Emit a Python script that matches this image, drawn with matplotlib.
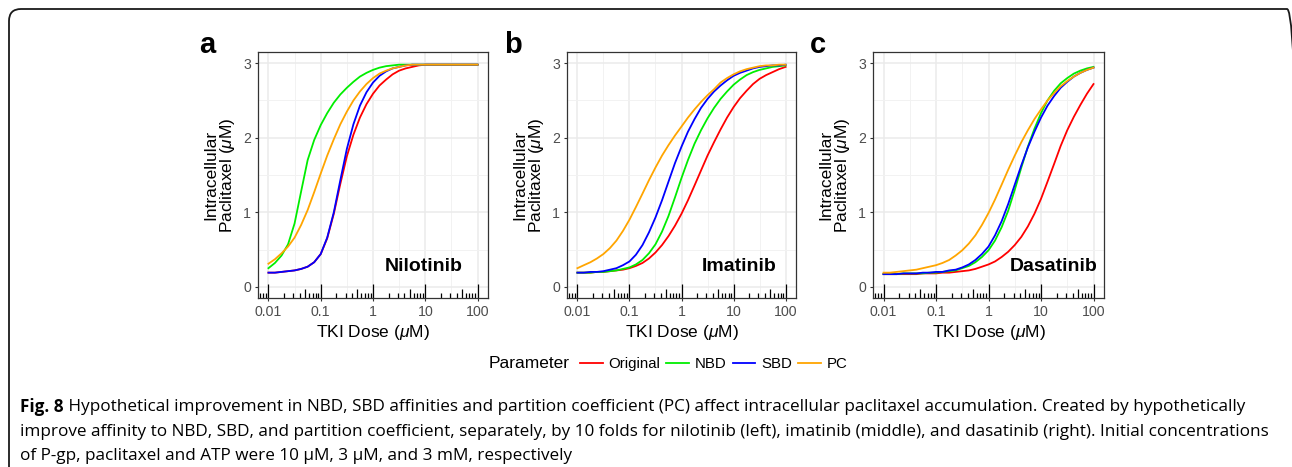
import matplotlib
matplotlib.use("Agg")
import matplotlib.pyplot as plt
import numpy as np
from matplotlib.patches import FancyBboxPatch
from matplotlib.lines import Line2D
from matplotlib.ticker import FixedLocator, NullFormatter
from matplotlib.transforms import IdentityTransform

plt.rcParams["font.family"] = ["Liberation Sans", "DejaVu Sans"]
plt.rcParams["mathtext.fontset"] = "custom"
plt.rcParams["mathtext.rm"] = "Liberation Sans"
plt.rcParams["mathtext.it"] = "Liberation Sans:italic"

# TKI dose (uM), 1/8 decade steps from 0.01 to 100
dose = [0.01, 0.0133, 0.0178, 0.0237, 0.0316, 0.0422, 0.0562, 0.075,
        0.1, 0.133, 0.178, 0.237, 0.316, 0.422, 0.562, 0.75,
        1, 1.33, 1.78, 2.37, 3.16, 4.22, 5.62, 7.5,
        10, 13.3, 17.8, 23.7, 31.6, 42.2, 56.2, 75, 100]

# intracellular paclitaxel (uM)
nil_original = [0.19, 0.19, 0.20, 0.21, 0.22, 0.24, 0.27, 0.33,
                0.44, 0.65, 0.98, 1.38, 1.75, 2.04, 2.27, 2.45,
                2.59, 2.70, 2.78, 2.85, 2.90, 2.93, 2.95, 2.97,
                2.98, 2.98, 2.98, 2.98, 2.98, 2.98, 2.98, 2.98, 2.98]
nil_nbd = [0.25, 0.32, 0.42, 0.57, 0.85, 1.28, 1.70, 1.97,
           2.17, 2.33, 2.47, 2.58, 2.67, 2.75, 2.82, 2.87,
           2.91, 2.94, 2.96, 2.97, 2.98, 2.98, 2.98, 2.98,
           2.98, 2.98, 2.98, 2.98, 2.98, 2.98, 2.98, 2.98, 2.98]
nil_sbd = [0.19, 0.19, 0.20, 0.21, 0.22, 0.24, 0.27, 0.33,
           0.44, 0.66, 1.00, 1.43, 1.85, 2.18, 2.43, 2.61,
           2.74, 2.83, 2.89, 2.93, 2.95, 2.97, 2.98, 2.98,
           2.98, 2.98, 2.98, 2.98, 2.98, 2.98, 2.98, 2.98, 2.98]
nil_pc = [0.31, 0.37, 0.45, 0.54, 0.66, 0.83, 1.03, 1.27,
          1.52, 1.76, 1.98, 2.18, 2.35, 2.50, 2.62, 2.72,
          2.80, 2.86, 2.90, 2.93, 2.95, 2.97, 2.98, 2.98,
          2.98, 2.98, 2.98, 2.98, 2.98, 2.98, 2.98, 2.98, 2.98]

ima_original = [0.19, 0.19, 0.19, 0.20, 0.20, 0.21, 0.22, 0.23,
                0.25, 0.28, 0.32, 0.38, 0.46, 0.56, 0.68, 0.82,
                0.98, 1.16, 1.36, 1.56, 1.76, 1.94, 2.11, 2.27,
                2.41, 2.53, 2.63, 2.72, 2.79, 2.84, 2.88, 2.92, 2.95]
ima_nbd = [0.19, 0.19, 0.19, 0.20, 0.20, 0.21, 0.22, 0.24,
           0.26, 0.30, 0.36, 0.45, 0.57, 0.74, 0.95, 1.20,
           1.46, 1.70, 1.92, 2.10, 2.26, 2.40, 2.52, 2.62,
           2.71, 2.78, 2.84, 2.88, 2.91, 2.93, 2.95, 2.96, 2.97]
ima_sbd = [0.19, 0.19, 0.20, 0.20, 0.21, 0.23, 0.25, 0.29,
           0.34, 0.43, 0.56, 0.73, 0.93, 1.16, 1.41, 1.66,
           1.88, 2.08, 2.25, 2.40, 2.52, 2.62, 2.70, 2.77,
           2.83, 2.87, 2.90, 2.93, 2.95, 2.96, 2.97, 2.97, 2.98]
ima_pc = [0.25, 0.29, 0.33, 0.38, 0.44, 0.52, 0.62, 0.75,
          0.90, 1.07, 1.25, 1.43, 1.60, 1.76, 1.90, 2.03,
          2.15, 2.27, 2.38, 2.48, 2.57, 2.65, 2.74, 2.80,
          2.85, 2.89, 2.92, 2.94, 2.96, 2.97, 2.97, 2.98, 2.98]

das_original = [0.17, 0.17, 0.17, 0.17, 0.17, 0.17, 0.18, 0.18,
                0.18, 0.19, 0.19, 0.20, 0.21, 0.22, 0.24, 0.27,
                0.30, 0.34, 0.40, 0.47, 0.56, 0.67, 0.81, 0.98,
                1.18, 1.41, 1.65, 1.89, 2.10, 2.28, 2.44, 2.59, 2.72]
das_nbd = [0.17, 0.17, 0.17, 0.18, 0.18, 0.18, 0.18, 0.19,
           0.19, 0.20, 0.21, 0.22, 0.25, 0.28, 0.33, 0.40,
           0.49, 0.62, 0.80, 1.02, 1.30, 1.60, 1.88, 2.12,
           2.33, 2.50, 2.63, 2.73, 2.80, 2.86, 2.90, 2.93, 2.95]
das_sbd = [0.17, 0.17, 0.17, 0.18, 0.18, 0.18, 0.19, 0.19,
           0.20, 0.20, 0.22, 0.23, 0.26, 0.30, 0.36, 0.44,
           0.54, 0.69, 0.88, 1.11, 1.37, 1.63, 1.87, 2.08,
           2.27, 2.43, 2.56, 2.67, 2.75, 2.82, 2.87, 2.91, 2.94]
das_pc = [0.19, 0.19, 0.20, 0.21, 0.22, 0.23, 0.25, 0.27,
          0.29, 0.32, 0.36, 0.42, 0.49, 0.58, 0.69, 0.83,
          0.99, 1.17, 1.37, 1.57, 1.76, 1.94, 2.10, 2.25,
          2.38, 2.50, 2.60, 2.69, 2.76, 2.82, 2.87, 2.91, 2.94]

parameters = ["Original", "NBD", "SBD", "PC"]
colors = ["#FF0000", "#00EE00", "#0000FF", "#FFA500"]
drugs = ["Nilotinib", "Imatinib", "Dasatinib"]
panel_letters = ["a", "b", "c"]
series = [
    [nil_original, nil_nbd, nil_sbd, nil_pc],
    [ima_original, ima_nbd, ima_sbd, ima_pc],
    [das_original, das_nbd, das_sbd, das_pc],
]

W, H = 1292, 467
fig = plt.figure(figsize=(W / 100, H / 100), dpi=100)

# rounded frame around the figure
frame = FancyBboxPatch((9, -30), 1290, 467 - 9 + 30, boxstyle="round,pad=0,rounding_size=12",
                       transform=IdentityTransform(), fill=False, ec="#1a1a1a", lw=1.3)
fig.patches.append(frame)

# panel boxes in pixels: left, top, right, bottom
boxes = [(258, 52, 488, 298), (567, 52, 796, 298), (873, 52, 1104, 298)]
label_x = [0.891, 0.913, 0.974]
letter_x = [199, 504, 810]

xlo, xhi = 10 ** -2.2, 10 ** 2.2
for i, (l, t, r, b) in enumerate(boxes):
    ax = fig.add_axes([l / W, 1 - b / H, (r - l) / W, (b - t) / H])
    ax.set_xscale("log")
    ax.set_xlim(xlo, xhi)
    ax.set_ylim(-0.15, 3.15)
    ax.set_xticks([0.01, 0.1, 1, 10, 100])
    ax.set_xticklabels(["0.01", "0.1", "1", "10", "100"])
    ax.xaxis.set_minor_locator(FixedLocator([0.0316, 0.316, 3.16, 31.6]))
    ax.xaxis.set_minor_formatter(NullFormatter())
    ax.set_yticks([0, 1, 2, 3])
    ax.yaxis.set_minor_locator(FixedLocator([0.5, 1.5, 2.5]))
    ax.set_axisbelow(True)
    ax.grid(which="major", color="#EBEBEB", lw=1.1)
    ax.grid(which="minor", color="#F2F2F2", lw=0.7)
    ax.tick_params(which="major", length=2.2, width=0.8, color="#333333",
                   labelsize=10.2, labelcolor="#4D4D4D", pad=3)
    ax.tick_params(which="minor", length=0)
    for sp in ax.spines.values():
        sp.set_color("#333333")
        sp.set_linewidth(0.9)

    for vals, c in zip(series[i], colors):
        ax.plot(dose, vals, color=c, lw=1.3)

    # log ticks along the bottom
    axh = b - t
    for k in range(-3, 3):
        for m in range(1, 10):
            v = m * 10.0 ** k
            if v < xlo or v > xhi:
                continue
            ln = 14 if m == 1 else (9 if m == 5 else 5)
            ax.plot([v, v], [0, ln / axh], transform=ax.get_xaxis_transform(),
                    color="black", lw=0.9, solid_capstyle="butt")

    ax.text(label_x[i], 0.27, drugs[i], transform=ax.get_yaxis_transform(),
            ha="right", va="center", fontsize=14, fontweight="bold")
    ax.set_xlabel(r"TKI Dose ($\mathit{\mu}$M)", fontsize=12.5, labelpad=3)
    ax.set_ylabel("Intracellular\n" + r"Paclitaxel ($\mathit{\mu}$M)", fontsize=12.5,
                  labelpad=4, linespacing=1.0)
    fig.text(letter_x[i] / W, 1 - 53 / H, panel_letters[i], fontsize=21,
             fontweight="bold", ha="left", va="baseline")

# legend row
fig.text(489 / W, 1 - 364 / H, "Parameter", fontsize=12.5, va="center", ha="left")
handles = [Line2D([], [], color=c, lw=1.3) for c in colors]
fig.legend(handles, parameters, loc="center left", bbox_to_anchor=(580 / W, 1 - 364 / H),
           ncol=4, frameon=False, fontsize=10.8, handlelength=1.5, handletextpad=0.4,
           columnspacing=0.4, borderpad=0, borderaxespad=0)

# caption
cap_font = ["Open Sans", "DejaVu Sans"]
cap_size = 12.3
line1 = (" Hypothetical improvement in NBD, SBD affinities and partition coefficient (PC) "
         "affect intracellular paclitaxel accumulation. Created by hypothetically")
line2 = ("improve affinity to NBD, SBD, and partition coefficient, separately, by 10 folds for "
         "nilotinib (left), imatinib (middle), and dasatinib (right). Initial concentrations")
line3 = "of P-gp, paclitaxel and ATP were 10 \u03bcM, 3 \u03bcM, and 3 mM, respectively"

fig_lbl = fig.text(20 / W, 1 - 407 / H, "Fig. 8", fontsize=cap_size, family=cap_font,
                   fontweight="bold", va="center", ha="left")
renderer = fig.canvas.get_renderer()
bb = fig_lbl.get_window_extent(renderer)
fig.text(bb.x1 / W, 1 - 407 / H, line1, fontsize=cap_size, family=cap_font, va="center", ha="left")
fig.text(20 / W, 1 - 432 / H, line2, fontsize=cap_size, family=cap_font, va="center", ha="left")
fig.text(20 / W, 1 - 456 / H, line3, fontsize=cap_size, family=cap_font, va="center", ha="left")

fig.savefig("out.png", dpi=100)
